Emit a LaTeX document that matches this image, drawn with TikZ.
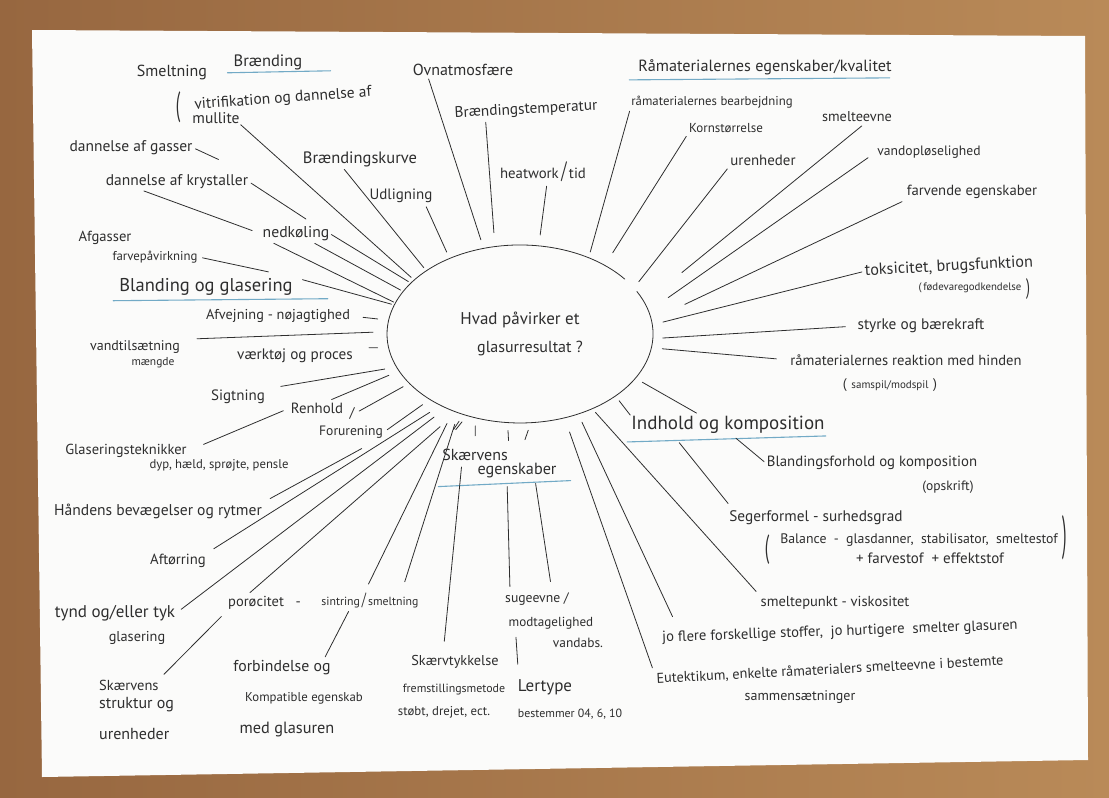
\documentclass[tikz,border=0pt]{standalone}
\usepackage{graphicx}
\usepackage{fontspec}
\setmainfont{PT Sans}
\usetikzlibrary{shapes.geometric,calc}
\definecolor{ink}{HTML}{2E2E2E}
\definecolor{wood}{HTML}{B98A58}
\definecolor{wooddark}{HTML}{976740}
\definecolor{paper}{HTML}{FBFBFA}
\definecolor{hl}{HTML}{72AAC6}
\tikzset{
  hw/.style={font=\fontsize{#1}{#1}\selectfont, text=ink, inner sep=1pt},
  pen/.style={draw=ink, line width=0.8pt, line cap=round},
  ul/.style={draw=hl, line width=1.1pt, line cap=round},
}
\begin{document}
\begin{tikzpicture}[x=1pt, y=-1pt]
\useasboundingbox (0,0) rectangle (1109,798);
\shade[left color=wooddark, right color=wood] (0,0) rectangle (1109,798);
\fill[paper] (32,30) -- (1085,36) -- (1088,760) -- (42,777) -- cycle;

% centre
\node[ellipse, minimum width=266pt, minimum height=178pt, inner sep=0pt, outer sep=0pt,
      align=center, hw=17] (q) at (520,334) {Hvad påvirker et\\[11pt]\hspace*{20pt}{\fontsize{16}{16}\selectfont glasurresultat ?}};
\draw[pen] ([shift={(116.9,-42.5)}]q.center) arc[start angle=-28.5, end angle=322, x radius=133, y radius=89];

% Brænding
\node[hw=16] (smelt) at (172,72) {Smeltning};
\node[hw=16.5] (braend) at (268,62) {Brænding};
\node[hw=15.5, rotate=4] (vitr) at (283,99) {vitrifikation og dannelse af};
\node[hw=16] (vpar) at (178,107) {\scalebox{1}[2.1]{(}};
\node[hw=15.5] (mull) at (216,118) {mullite};
\node[hw=15.5] (gas) at (131,148) {dannelse af gasser};
\node[hw=15.5] (kry) at (177,182) {dannelse af krystaller};
\node[hw=16.5] (kurve) at (360,159) {Brændingskurve};
\node[hw=15] (udl) at (401,196) {Udligning};
\node[hw=15.7] (ned) at (296,234) {nedkøling};
\node[hw=16] (ovn) at (463,70) {Ovnatmosfære};
\node[hw=15.3, rotate=3] (temp) at (526,110) {Brændingstemperatur};
\node[hw=14.8] (heat) at (543,172) {heatwork\,\scalebox{1}[1.6]{/}\,tid};

% Råmaterialer
\node[hw=16.2] (raa) at (765,67) {Råmaterialernes egenskaber/kvalitet};
\node[hw=12.8] (bear) at (712,102) {råmaterialernes bearbejdning};
\node[hw=13] (korn) at (726,128) {Kornstørrelse};
\node[hw=14.3] (smev) at (857,117) {smelteevne};
\node[hw=14.9] (uren) at (763,160) {urenheder};
\node[hw=13.6] (vand) at (929,152) {vandopløselighed};
\node[hw=14.7] (farv) at (972,192) {farvende egenskaber};
\node[hw=16.2, rotate=3] (toks) at (949,267) {toksicitet, brugsfunktion};
\node[hw=10.8] (foed) at (970,288) {(\,fødevaregodkendelse};
\node[hw=14] (foedp) at (1028,289) {\scalebox{1}[1.6]{)}};
\node[hw=15.3] (styr) at (921,326) {styrke og bærekraft};
\node[hw=14.6] (reak) at (906,360) {råmaterialernes reaktion med hinden};
\node[hw=14] (samsp) at (890,385) {(\,\,{\fontsize{11}{11}\selectfont samspil/modspil}\,\,)};

% Indhold og komposition
\node[hw=19] (indh) at (728,425) {Indhold og komposition};
\node[hw=14.8] (bland) at (872,463) {Blandingsforhold og komposition};
\node[hw=13.5] (opsk) at (948,487) {(opskrift)};
\node[hw=15.3] (seger) at (816,518) {Segerformel - surhedsgrad};
\node[hw=13.8] (bal) at (919,540) {Balance \ - \ glasdanner, \ stabilisator, \ smeltestof};
\node[hw=15] (farvst) at (930,558) {+ farvestof \ + effektstof};
\node[hw=16] (balL) at (767,550) {\scalebox{1}[2]{(}};
\node[hw=16] (balR) at (1065,538) {\scalebox{1}[3]{)}};
\node[hw=14.5] (smp) at (835,603) {smeltepunkt - viskositet};
\node[hw=14.7, rotate=2] (jofl) at (840,632) {jo flere forskellige stoffer, \ jo hurtigere \ smelter glasuren};
\node[hw=14.3, rotate=3, inner sep=0pt] (eut) at (830,670) {Eutektikum, enkelte råmaterialers smelteevne i bestemte};
\node[hw=14, inner sep=0pt] (samm) at (800,697) {sammensætninger};

% Skærvens egenskaber
\node[hw=16] (skv) at (475,455) {Skærvens};
\node[hw=16.2] (egen) at (517,471) {egenskaber};
\node[hw=13.7] (sug) at (537,599) {sugeevne /};
\node[hw=13.1] (modt) at (551,623) {modtagelighed};
\node[hw=13.4] (vabs) at (578,643) {vandabs.};
\node[hw=14.3] (tyk) at (455,662) {Skærvtykkelse};
\node[hw=11.9] (frem) at (454,690) {fremstillingsmetode};
\node[hw=12.8] (stoe) at (444,712) {støbt, drejet, ect.};
\node[hw=17] (ler) at (545,687) {Lertype};
\node[hw=11.9] (best) at (570,714) {bestemmer 04, 6, 10};
\node[hw=14.5, anchor=west] (sk1) at (98,685) {Skærvens};
\node[hw=16, anchor=west] (sk2) at (98,705) {struktur og};
\node[hw=16, anchor=west] (sk3) at (98,734) {urenheder};
\node[hw=15.8] (forb) at (282,668) {forbindelse og};
\node[hw=12.8] (komp) at (304,698) {Kompatible egenskab};
\node[hw=16.3] (medg) at (287,730) {med glasuren};
\node[hw=14.5, anchor=west] (por) at (227,603) {porøcitet \ \ -};
\node[hw=11.8] (sint) at (370,600) {sintring\,\scalebox{1}[1.5]{/}\,smeltning};

% Blanding og glasering
\node[hw=17] (tynd) at (115,613) {tynd og/eller tyk};
\node[hw=14.3] (glas) at (137,638) {glasering};
\node[hw=14.7] (aft) at (178,561) {Aftørring};
\node[hw=15.6] (haand) at (158,511) {Håndens bevægelser og rytmer};
\node[hw=14.5] (glt) at (126,451) {Glaseringsteknikker};
\node[hw=12.7] (dyp) at (219,465) {dyp, hæld, sprøjte, pensle};
\node[hw=14.8] (renh) at (317,408) {Renhold};
\node[hw=14] (renhs) at (352,413) {/};
\node[hw=13.6] (foru) at (351,432) {Forurening};
\node[hw=15] (sigt) at (238,397) {Sigtning};
\node[hw=14] (vtil) at (135,347) {vandtilsætning};
\node[hw=11.5] (maen) at (153,363) {mængde};
\node[hw=15.2] (vaerk) at (295,356) {værktøj og proces};
\node[hw=14.3] (afv) at (278,316) {Afvejning - nøjagtighed};
\node[hw=18.5] (blg) at (206,287) {Blanding og glasering};
\node[hw=12.8] (farvp) at (155,257) {farvepåvirkning};
\node[hw=14.6] (afg) at (105,238) {Afgasser};

% underlines
\draw[ul] ([shift={(-5,2)}]braend.south west) -- ([shift={(27,0)}]braend.south east);
\draw[ul] ([shift={(-5,4)}]blg.south west) -- ([shift={(34,2)}]blg.south east);
\draw[ul] ([shift={(-8,4)}]raa.south west) -- ([shift={(-3,2)}]raa.south east);
\draw[ul] ([shift={(-3,7)}]indh.south west) -- ([shift={(0,1)}]indh.south east);
\draw[ul] ([shift={(-38,7)}]egen.south west) -- ([shift={(13,1)}]egen.south east);

% rays, upper left
\draw[pen, shorten >=4pt] (mull.south east) -- (q.153.6);
\draw[pen, shorten <=2pt, shorten >=4pt] ([xshift=-17pt]kurve.south) -- (q.146);
\draw[pen, shorten <=3pt, shorten >=7pt] ([xshift=24pt]udl.south) -- (q.133.6);
\draw[pen, shorten <=1pt, shorten >=3pt] (ned.east) -- (q.155.9);
\draw[pen, shorten <=2pt, shorten >=3pt] ([xshift=17pt]ned.south) -- (q.160);
\draw[pen, shorten <=2pt, shorten >=2pt] ([xshift=-24pt]ned.south) -- (q.166.4);
\draw[pen, shorten <=2pt, shorten >=12pt] (kry.east) -- ([xshift=20pt]ned.north);
\draw[pen, shorten <=2pt, shorten >=10pt] ([xshift=-35pt]kry.south) -- (ned.west);
\draw[pen, shorten <=2pt, shorten >=34pt] (gas.east) -- (kry.north east);

% rays, left
\draw[pen, shorten <=4pt, shorten >=26pt] (farvp.east) -- (blg.north east);
\draw[pen, shorten <=9pt, shorten >=3pt] (blg.north east) -- (q.167.5);
\draw[pen, shorten <=12pt, shorten >=11pt] (afv.east) -- (q.174.1);
\draw[pen, shorten <=16pt, shorten >=14pt] (vtil.north east) -- (q.179.4);
\draw[pen, shorten <=15pt, shorten >=11pt] (vaerk.north east) -- (q.186.1);
\draw[pen, shorten <=15pt, shorten >=12pt] (sigt.north east) -- (q.195.5);
\draw[pen, shorten <=5pt, shorten >=11pt] ([xshift=10pt]renh.north) -- (q.197);
\draw[pen, shorten <=4pt, shorten >=7pt] (renhs.east) -- (q.204.8);
\draw[pen, shorten <=4pt, shorten >=9pt] (foru.east) -- (q.216.6);
\draw[pen, shorten <=17pt, shorten >=7pt] (glt.east) -- (renh.west);

% rays, lower left
\draw[pen, shorten <=8pt, shorten >=90pt] (haand.north east) -- (q.222.7);
\draw[pen, shorten <=8pt, shorten >=13pt] (aft.north east) -- (q.222.2);
\draw[pen, shorten <=6pt, shorten >=15pt] (tynd.east) -- (q.225.7);
\draw[pen, shorten <=4pt, shorten >=22pt] ([xshift=20pt]por.north west) -- (q.231.5);
\draw[pen, shorten <=8pt, shorten >=14pt] ([xshift=-5pt]sint.north) -- (q.229.9);
\draw[pen, shorten <=10pt, shorten >=12pt] ([xshift=-18pt]sint.north east) -- (q.232.3);
\draw[pen, shorten <=3pt, shorten >=3pt] ([xshift=-8pt]forb.north east) -- ([xshift=-20pt]sint.south);
\draw[pen, shorten <=6pt, shorten >=8pt] (sk1.north east) -- (por.south west);

% Skærvens egenskaber
\foreach \a/\t in {235.1/skv.north west, 237.8/skv.north west, 242.9/skv.north, 262.9/skv.north east, 277/egen.north}
  \draw[pen, shorten <=8pt] (q.\a) -- ($(q.\a)!18pt!(\t)$);
\draw[pen, shorten <=13pt, shorten >=5pt] ([xshift=-12pt]tyk.north) -- ([xshift=-13pt]skv.south);
\draw[pen, shorten <=7pt, shorten >=5pt] ([xshift=-10pt]egen.south) -- ([xshift=6pt]sug.north west);
\draw[pen, shorten <=4pt, shorten >=10pt] ([xshift=18pt]egen.south) -- ([xshift=15pt]sug.north);
\draw[pen, shorten <=7pt, shorten >=14pt] ([xshift=8pt]modt.south west) -- ([xshift=2pt]ler.north west);

% rays, lower right
\draw[pen, shorten <=15pt, shorten >=12pt] (q.298.6) -- (eut.west);
\draw[pen, shorten <=9pt, shorten >=15pt] (q.306.4) -- ([xshift=18pt]jofl.north west);
\draw[pen, shorten <=5pt, shorten >=5pt] (q.314.8) -- (smp.north west);
\draw[pen, shorten <=6pt] (q.327) -- (indh.north west);
\draw[pen, shorten <=8pt, shorten >=4pt] (q.339.4) -- ([xshift=-28pt]indh.north);
\draw[pen, shorten <=5pt, shorten >=2pt] ([xshift=4pt]indh.south) -- (bland.west);
\draw[pen, shorten <=10pt, shorten >=8pt] ([xshift=-55pt]indh.south) -- ([xshift=5pt]seger.north west);

% rays, right
\draw[pen, shorten <=11pt, shorten >=13pt] (q.354.4) -- (reak.west);
\draw[pen, shorten <=10pt, shorten >=11pt] (q.358.5) -- (styr.west);
\draw[pen, shorten <=11pt, shorten >=2pt] (q.4.9) -- (toks.west);
\draw[pen, shorten <=37pt, shorten >=4pt] (q.6.9) -- (farv.south west);
\draw[pen, shorten <=24pt, shorten >=10pt] (q.10.3) -- (vand.west);
\draw[pen, shorten <=48pt, shorten >=4pt] (q.14.2) -- ([xshift=8pt]smev.south);
\draw[pen, shorten <=8pt, shorten >=3pt] (q.22.9) -- (uren.south west);
\draw[pen, shorten <=15pt, shorten >=3pt] (q.39.1) -- (korn.south west);
\draw[pen, shorten <=6pt, shorten >=2pt] (q.48.2) -- (bear.south west);

% rays, top
\draw[pen, shorten <=11pt, shorten >=3pt] (q.78.4) -- ([xshift=4pt]heat.south);
\draw[pen, shorten <=14pt, shorten >=4pt] (q.106.5) -- ([xshift=-41pt]temp.south);
\draw[pen, shorten <=9pt, shorten >=2pt] (q.113.4) -- ([xshift=-35pt]ovn.south);
\end{tikzpicture}
\end{document}
